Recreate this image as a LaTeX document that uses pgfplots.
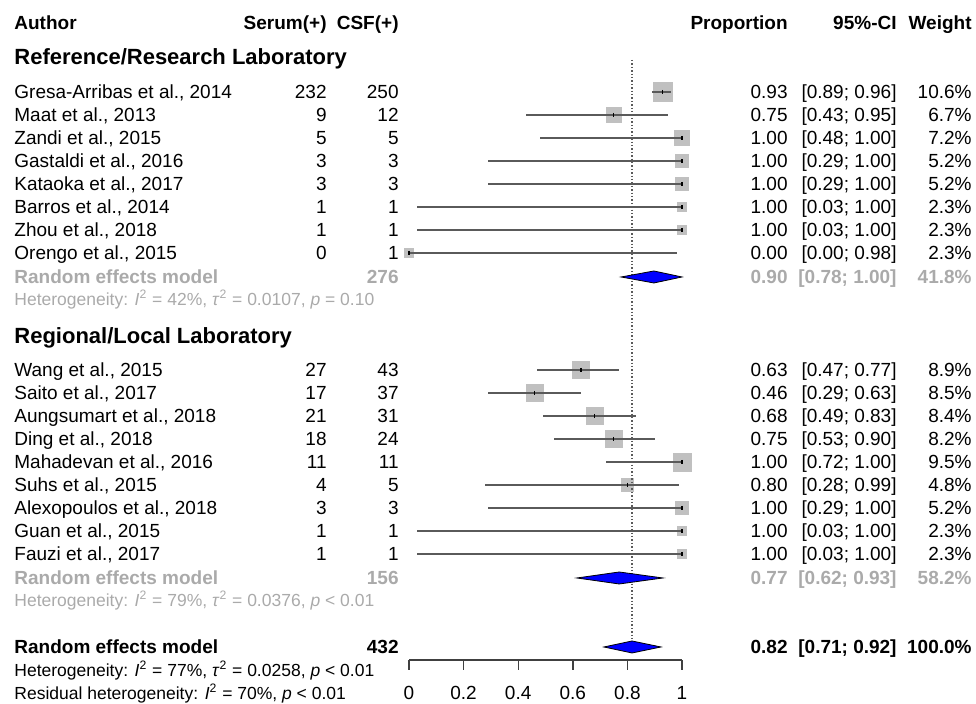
\documentclass[border=0pt]{standalone}
\usepackage{pgfplots}
\pgfplotsset{compat=1.18}
\usepackage{pgfplotstable}
\usepackage{fontspec}
\setmainfont{Liberation Sans}
\definecolor{sqgray}{RGB}{192,192,192}
\definecolor{cigray}{RGB}{90,90,90}
\definecolor{sumgray}{RGB}{170,170,170}
\definecolor{diablue}{RGB}{0,0,255}

% y = -(pixel row), p = proportion, lo/hi = 95% CI, w = weight (%)
\pgfplotstableread{
y p lo hi w
-92 0.93 0.89 0.96 10.6
-115 0.75 0.43 0.95 6.7
-138 1.00 0.48 1.00 7.2
-161 1.00 0.29 1.00 5.2
-184 1.00 0.29 1.00 5.2
-207 1.00 0.03 1.00 2.3
-230 1.00 0.03 1.00 2.3
-253 0.00 0.00 0.98 2.3
-370 0.63 0.47 0.77 8.9
-393 0.46 0.29 0.63 8.5
-416 0.68 0.49 0.83 8.4
-439 0.75 0.53 0.90 8.2
-462 1.00 0.72 1.00 9.5
-485 0.80 0.28 0.99 4.8
-508 1.00 0.29 1.00 5.2
-531 1.00 0.03 1.00 2.3
-554 1.00 0.03 1.00 2.3
}\studies

\newcommand{\fn}{\fontsize{9.5}{11}\selectfont}
\newcommand{\fh}{\fontsize{11}{13}\selectfont\bfseries}
\newcommand{\fs}{\fontsize{8.75}{10}\selectfont}

\newcommand{\row}[8][]{%
  \node[anchor=base west,#1] at (14,{#2+7}) {#3};
  \node[anchor=base east,#1] at (327,{#2+7}) {#4};
  \node[anchor=base east,#1] at (399,{#2+7}) {#5};
  \node[anchor=base east,#1] at (788,{#2+7}) {#6};
  \node[anchor=base east,#1] at (897,{#2+7}) {#7};
  \node[anchor=base east,#1] at (972,{#2+7}) {#8};}

\pgfplotsset{forest/.style={
  at={(204.5pt,22pt)}, anchor=south west,
  scale only axis, width=136.5pt, height=330pt,
  xmin=0, xmax=1, ymin=-660, ymax=0,
  clip=false}}

\begin{document}
\begin{tikzpicture}
\useasboundingbox (0,0) rectangle (488pt,352pt);
% first axis: squares only (drawn underneath)
\begin{axis}[forest, hide axis]
\addplot[scatter, only marks, mark=square*,
  mark options={draw=sqgray, fill=sqgray},
  scatter/use mapped color={draw=sqgray, fill=sqgray},
  visualization depends on={1.45*sqrt(\thisrow{w}) \as \ms},
  scatter/@pre marker code/.append style={/tikz/mark size=\ms}]
  table[x=p, y=y] \studies;
\end{axis}
% second axis: CI lines, estimates, diamonds, x axis
\begin{axis}[forest,
  axis x line=bottom, axis y line=none,
  x axis line style={-, draw=black!75, line width=0.7pt},
  xtick={0,0.2,0.4,0.6,0.8,1},
  xticklabels={0,0.2,0.4,0.6,0.8,1},
  tick align=outside, major tick length=5pt,
  xtick style={draw=black!75, line width=0.7pt},
  xticklabel style={font=\fn, inner sep=0pt, anchor=north, yshift=-8pt},
  /pgf/number format/assume math mode=true,
]
\addplot[densely dotted, draw=cigray, line width=0.7pt] coordinates {(0.817,-60) (0.817,-648)};
\addplot[only marks, mark=|, mark size=1.1pt, mark options={draw=black, line width=0.6pt},
  error bars/.cd, x dir=both, x explicit, error mark=none,
  error bar style={draw=cigray, line width=0.85pt}]
  table[x=p, y=y, x error plus expr=\thisrow{hi}-\thisrow{p}, x error minus expr=\thisrow{p}-\thisrow{lo}] \studies;
\addplot[fill=diablue, draw=black, line width=0.4pt] coordinates {(0.777,-277) (0.897,-271) (1.000,-277) (0.897,-283)} --cycle;
\addplot[fill=diablue, draw=black, line width=0.4pt] coordinates {(0.615,-578) (0.770,-572) (0.930,-578) (0.770,-584)} --cycle;
\addplot[fill=diablue, draw=black, line width=0.4pt] coordinates {(0.714,-647) (0.817,-641) (0.923,-647) (0.817,-653)} --cycle;
\end{axis}

\begin{scope}[x=0.5pt, y=-0.5pt, shift={(0pt,352pt)}, every node/.style={inner sep=0pt, font=\fn}]
\row[font=\fn\bfseries]{23}{Author}{Serum(+)}{CSF(+)}{Proportion}{95\%-CI}{Weight}
\node[anchor=base west, font=\fh] at (14,{57+8}) {Reference/Research Laboratory};
\row{92}{Gresa-Arribas et al., 2014}{232}{250}{0.93}{[0.89; 0.96]}{10.6\%}
\row{115}{Maat et al., 2013}{9}{12}{0.75}{[0.43; 0.95]}{6.7\%}
\row{138}{Zandi et al., 2015}{5}{5}{1.00}{[0.48; 1.00]}{7.2\%}
\row{161}{Gastaldi et al., 2016}{3}{3}{1.00}{[0.29; 1.00]}{5.2\%}
\row{184}{Kataoka et al., 2017}{3}{3}{1.00}{[0.29; 1.00]}{5.2\%}
\row{207}{Barros et al., 2014}{1}{1}{1.00}{[0.03; 1.00]}{2.3\%}
\row{230}{Zhou et al., 2018}{1}{1}{1.00}{[0.03; 1.00]}{2.3\%}
\row{253}{Orengo et al., 2015}{0}{1}{0.00}{[0.00; 0.98]}{2.3\%}
\row[font=\fn\bfseries, text=sumgray]{277}{Random effects model}{}{276}{0.90}{[0.78; 1.00]}{41.8\%}
\node[anchor=base west, font=\fs, text=sumgray] at (14,{300+6}) {Heterogeneity: \textit{I}\textsuperscript{2} = 42\%, \textit{τ}\textsuperscript{2} = 0.0107, \textit{p} = 0.10};
\node[anchor=base west, font=\fh] at (14,{336+8}) {Regional/Local Laboratory};
\row{370}{Wang et al., 2015}{27}{43}{0.63}{[0.47; 0.77]}{8.9\%}
\row{393}{Saito et al., 2017}{17}{37}{0.46}{[0.29; 0.63]}{8.5\%}
\row{416}{Aungsumart et al., 2018}{21}{31}{0.68}{[0.49; 0.83]}{8.4\%}
\row{439}{Ding et al., 2018}{18}{24}{0.75}{[0.53; 0.90]}{8.2\%}
\row{462}{Mahadevan et al., 2016}{11}{11}{1.00}{[0.72; 1.00]}{9.5\%}
\row{485}{Suhs et al., 2015}{4}{5}{0.80}{[0.28; 0.99]}{4.8\%}
\row{508}{Alexopoulos et al., 2018}{3}{3}{1.00}{[0.29; 1.00]}{5.2\%}
\row{531}{Guan et al., 2015}{1}{1}{1.00}{[0.03; 1.00]}{2.3\%}
\row{554}{Fauzi et al., 2017}{1}{1}{1.00}{[0.03; 1.00]}{2.3\%}
\row[font=\fn\bfseries, text=sumgray]{578}{Random effects model}{}{156}{0.77}{[0.62; 0.93]}{58.2\%}
\node[anchor=base west, font=\fs, text=sumgray] at (14,{601+6}) {Heterogeneity: \textit{I}\textsuperscript{2} = 79\%, \textit{τ}\textsuperscript{2} = 0.0376, \textit{p} < 0.01};
\row[font=\fn\bfseries]{647}{Random effects model}{}{432}{0.82}{[0.71; 0.92]}{100.0\%}
\node[anchor=base west, font=\fs] at (14,{671+6}) {Heterogeneity: \textit{I}\textsuperscript{2} = 77\%, \textit{τ}\textsuperscript{2} = 0.0258, \textit{p} < 0.01};
\node[anchor=base west, font=\fs] at (14,{694+6}) {Residual heterogeneity: \textit{I}\textsuperscript{2} = 70\%, \textit{p} < 0.01};
\end{scope}
\end{tikzpicture}
\end{document}
